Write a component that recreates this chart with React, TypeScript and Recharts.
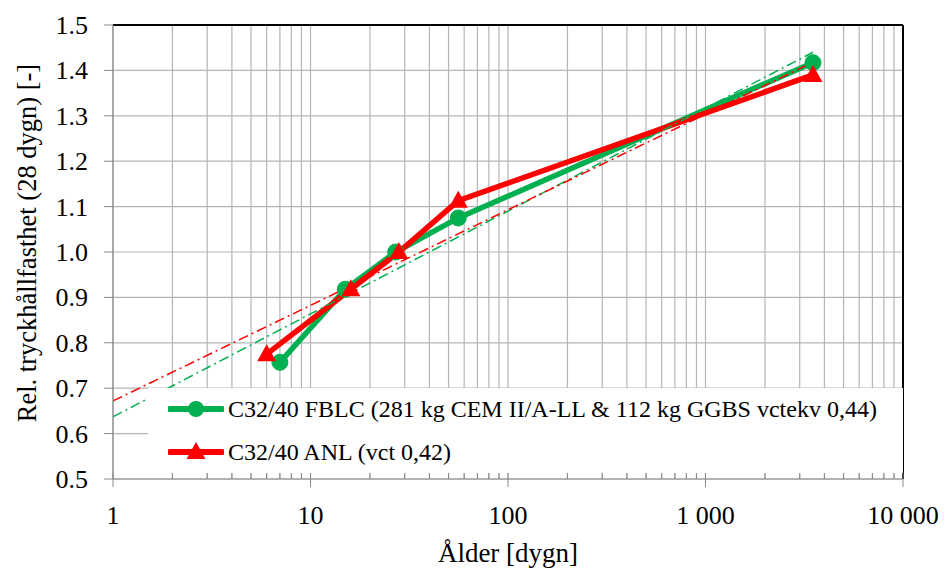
import { LineChart, Line, XAxis, YAxis, CartesianGrid, ReferenceLine } from 'recharts';

// FBLC series (green)
const fblcAge = [7, 15, 27, 56, 3500];
const fblcValue = [0.757, 0.918, 1.0, 1.075, 1.417];

// ANL series (red)
const anlAge = [6, 16, 28, 56, 3500];
const anlValue = [0.775, 0.918, 1.0, 1.113, 1.39];

// log trendlines, endpoints
const trendAge = [1, 3500];
const fblcTrend = [0.637, 1.44];
const anlTrend = [0.672, 1.418];

const majorTicks = [1, 10, 100, 1000, 10000];
const xGridTicks = [
  1, 2, 3, 4, 5, 6, 7, 8, 9,
  10, 20, 30, 40, 50, 60, 70, 80, 90,
  100, 200, 300, 400, 500, 600, 700, 800, 900,
  1000, 2000, 3000, 4000, 5000, 6000, 7000, 8000, 9000,
  10000,
];
const yTicks = [0.5, 0.6, 0.7, 0.8, 0.9, 1.0, 1.1, 1.2, 1.3, 1.4, 1.5];

const GREEN = '#00B050';
const RED = '#FF0000';
const GRID = '#b5b5b5';
const AXIS = '#8a8a8a';
const FONT = "'Liberation Serif', 'Times New Roman', serif";

const fblcData = fblcAge.map((age, i) => ({ age, value: fblcValue[i] }));
const anlData = anlAge.map((age, i) => ({ age, value: anlValue[i] }));
const fblcTrendData = trendAge.map((age, i) => ({ age, value: fblcTrend[i] }));
const anlTrendData = trendAge.map((age, i) => ({ age, value: anlTrend[i] }));

function formatThousands(v: number): string {
  return String(v).replace(/\B(?=(\d{3})+(?!\d))/g, ' ');
}

const XTick = ({ x, y, payload }: any) => {
  const isMajor = majorTicks.includes(payload.value);
  if (!isMajor) {
    return <line x1={x} x2={x} y1={y - 6} y2={y} stroke={AXIS} strokeWidth={1} />;
  }
  return (
    <g>
      <line x1={x} x2={x} y1={y - 6} y2={y + 8} stroke={AXIS} strokeWidth={1} />
      <text x={x} y={y + 45} textAnchor="middle" style={{ fontFamily: FONT }} fontSize={26} fill="#000">
        {formatThousands(payload.value)}
      </text>
    </g>
  );
};

const YTick = ({ x, y, payload }: any) => (
  <text x={x} y={y + 9} textAnchor="end" style={{ fontFamily: FONT }} fontSize={26} fill="#000">
    {payload.value.toFixed(1)}
  </text>
);

const Triangle = ({ cx, cy }: any) => {
  if (cx == null || cy == null) return null;
  return <path d={`M${cx},${cy - 10} L${cx + 9.5},${cy + 7} L${cx - 9.5},${cy + 7} Z`} fill={RED} />;
};

const Legend = () => (
  <div
    style={{
      position: 'absolute',
      left: 148,
      top: 388,
      width: 755,
      height: 85,
      background: '#fff',
      fontFamily: FONT,
      fontSize: 24,
      color: '#000',
    }}
  >
    <div style={{ position: 'absolute', left: 20, top: 6, display: 'flex', alignItems: 'center', whiteSpace: 'nowrap' }}>
      <svg width={56} height={30}>
        <line x1={2} x2={54} y1={15} y2={15} stroke={GREEN} strokeWidth={6} strokeLinecap="round" />
        <circle cx={28} cy={15} r={8} fill={GREEN} />
      </svg>
      <span style={{ marginLeft: 4 }}>C32/40 FBLC (281 kg CEM II/A-LL &amp; 112 kg GGBS vctekv 0,44)</span>
    </div>
    <div style={{ position: 'absolute', left: 20, top: 49, display: 'flex', alignItems: 'center', whiteSpace: 'nowrap' }}>
      <svg width={56} height={30}>
        <line x1={2} x2={54} y1={15} y2={15} stroke={RED} strokeWidth={6} strokeLinecap="round" />
        <path d="M28,5 L37.5,22 L18.5,22 Z" fill={RED} />
      </svg>
      <span style={{ marginLeft: 4 }}>C32/40 ANL (vct 0,42)</span>
    </div>
  </div>
);

export default function App() {
  return (
    <div style={{ position: 'absolute', left: 0, top: 0, width: 946, height: 569, background: '#fff' }}>
      <LineChart width={946} height={569} margin={{ top: 25, right: 43, bottom: 0, left: 0 }}>
        <CartesianGrid stroke={GRID} strokeWidth={1.2} />
        <XAxis
          dataKey="age"
          type="number"
          scale="log"
          domain={[1, 10000]}
          ticks={xGridTicks}
          interval={0}
          allowDataOverflow
          height={90}
          tickSize={0}
          tickMargin={0}
          tickLine={false}
          tick={<XTick />}
          axisLine={{ stroke: AXIS, strokeWidth: 1.2 }}
          label={({ viewBox }: any) => (
            <text
              x={viewBox.x + viewBox.width / 2}
              y={562}
              textAnchor="middle"
              style={{ fontFamily: FONT }}
              fontSize={27}
              fill="#000"
            >
              Ålder [dygn]
            </text>
          )}
        />
        <YAxis
          type="number"
          domain={[0.5, 1.5]}
          ticks={yTicks}
          interval={0}
          width={113}
          tickSize={9}
          tickMargin={16}
          tick={<YTick />}
          tickLine={{ stroke: AXIS }}
          axisLine={{ stroke: AXIS, strokeWidth: 1.2 }}
          label={() => (
            <text
              transform="translate(36, 243) rotate(-90)"
              textAnchor="middle"
              style={{ fontFamily: FONT }}
              fontSize={26.5}
              fill="#000"
            >
              Rel. tryckhållfasthet (28 dygn) [-]
            </text>
          )}
        />
        <ReferenceLine y={1.5} stroke="#000" strokeWidth={2} />
        <ReferenceLine x={10000} stroke="#000" strokeWidth={2} />
        <Line
          data={fblcData}
          dataKey="value"
          stroke={GREEN}
          strokeWidth={5.5}
          dot={{ r: 8, fill: GREEN, stroke: GREEN, strokeWidth: 1 }}
          isAnimationActive={false}
        />
        <Line
          data={anlData}
          dataKey="value"
          stroke={RED}
          strokeWidth={5.5}
          dot={<Triangle />}
          isAnimationActive={false}
        />
        <Line
          data={fblcTrendData}
          dataKey="value"
          stroke={GREEN}
          strokeWidth={1.5}
          strokeDasharray="10 4 2 4"
          dot={false}
          isAnimationActive={false}
        />
        <Line
          data={anlTrendData}
          dataKey="value"
          stroke={RED}
          strokeWidth={1.5}
          strokeDasharray="10 4 2 4"
          dot={false}
          isAnimationActive={false}
        />
      </LineChart>
      <Legend />
    </div>
  );
}
